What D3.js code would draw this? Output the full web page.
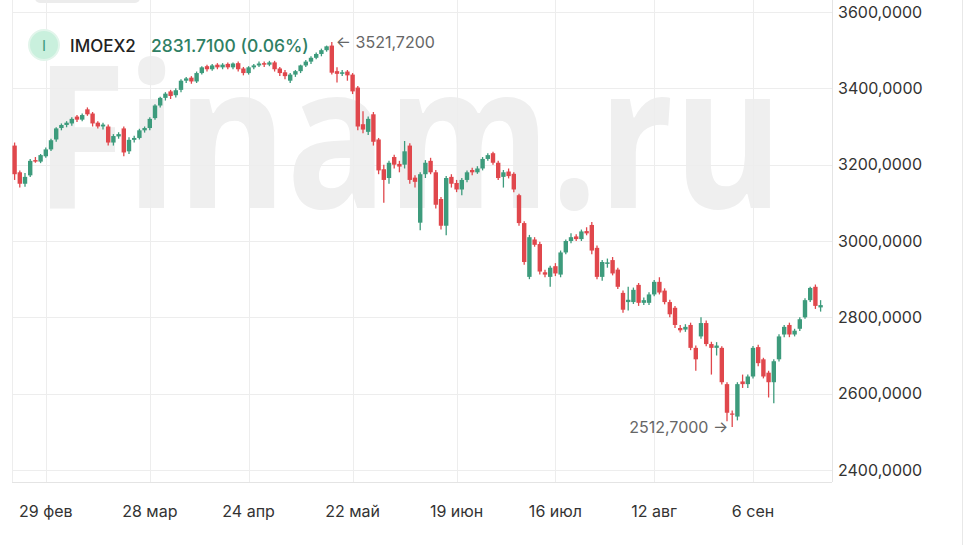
<!DOCTYPE html>
<html><head><meta charset="utf-8">
<script src="https://cdn.jsdelivr.net/npm/d3@7"></script>
<style>body{margin:0;background:#fff;font-family:Inter,"Noto Sans",sans-serif}</style>
</head><body><div id="chart"></div>
<script>
// daily candles [open, high, low, close], weekdays from 21 Feb 2024
const ohlc = [
[3250,3258,3160,3175],[3180,3185,3140,3150],[3150,3178,3142,3168],[3172,3215,3168,3210],[3212,3220,3205,3208],
[3208,3228,3204,3225],[3222,3245,3218,3240],[3240,3268,3236,3264],[3266,3298,3260,3295],[3296,3308,3290,3304],
[3304,3314,3298,3310],[3308,3324,3302,3320],[3326,3330,3312,3318],[3318,3334,3314,3330],[3345,3350,3328,3332],
[3334,3338,3300,3308],[3310,3314,3295,3300],[3300,3310,3292,3305],[3300,3305,3250,3258],[3258,3280,3250,3275],
[3274,3285,3268,3280],[3295,3300,3222,3232],[3235,3272,3228,3265],[3265,3276,3258,3270],[3270,3294,3266,3290],
[3290,3300,3284,3296],[3296,3324,3290,3320],[3322,3358,3318,3355],[3355,3378,3350,3375],[3375,3390,3368,3386],
[3392,3396,3372,3380],[3382,3400,3376,3395],[3396,3424,3390,3420],[3420,3430,3414,3426],[3428,3432,3412,3418],
[3418,3444,3414,3440],[3440,3458,3436,3455],[3458,3462,3444,3450],[3450,3464,3446,3460],[3462,3466,3450,3455],
[3455,3466,3450,3462],[3464,3468,3450,3455],[3455,3468,3450,3465],[3466,3470,3444,3450],[3452,3456,3434,3440],
[3440,3458,3436,3455],[3455,3464,3450,3460],[3460,3470,3456,3465],[3466,3470,3456,3462],[3462,3472,3458,3468],
[3468,3472,3444,3450],[3452,3456,3432,3440],[3442,3448,3424,3432],[3420,3440,3414,3436],[3436,3448,3430,3445],
[3445,3462,3440,3460],[3460,3474,3456,3470],[3470,3484,3464,3480],[3480,3494,3476,3490],[3490,3504,3484,3500],
[3500,3512,3496,3510],[3512,3521.72,3436,3441],[3445,3455,3415,3438],[3438,3448,3432,3442],[3444,3448,3420,3434],
[3436,3440,3385,3392],[3402,3406,3290,3300],[3306,3340,3282,3292],[3286,3326,3278,3320],[3332,3338,3250,3260],
[3266,3270,3175,3185],[3188,3200,3100,3160],[3165,3210,3150,3205],[3220,3226,3190,3200],[3202,3210,3180,3195],
[3200,3262,3190,3235],[3250,3256,3150,3160],[3166,3172,3140,3155],[3048,3180,3028,3175],[3175,3212,3165,3205],
[3210,3218,3175,3180],[3180,3186,3085,3095],[3110,3115,3030,3040],[3040,3170,3015,3165],[3168,3175,3140,3150],
[3152,3160,3128,3135],[3135,3165,3120,3160],[3160,3185,3154,3180],[3186,3192,3172,3180],[3180,3196,3176,3190],
[3190,3220,3185,3215],[3215,3230,3210,3225],[3230,3234,3200,3205],[3205,3210,3160,3165],[3168,3186,3140,3180],
[3182,3190,3164,3170],[3176,3180,3128,3135],[3120,3124,3040,3047],[3047,3052,2938,2945],[2906,3016,2900,3010],
[3004,3010,2985,2990],[2992,2998,2912,2920],[2918,2925,2905,2912],[2906,2935,2880,2930],[2934,2942,2908,2915],
[2912,2975,2905,2970],[2970,3004,2965,3000],[3000,3020,2994,3010],[3012,3018,3000,3005],[3005,3030,3000,3025],
[3026,3036,3015,3020],[3042,3050,2965,2975],[2982,2988,2900,2906],[2906,2950,2896,2945],[2940,2954,2930,2944],
[2950,2958,2910,2915],[2925,2930,2874,2880],[2864,2870,2812,2820],[2840,2880,2818,2846],[2840,2878,2835,2872],
[2885,2890,2830,2838],[2838,2852,2832,2845],[2838,2866,2832,2860],[2860,2898,2855,2893],[2893,2905,2860,2865],
[2870,2876,2834,2840],[2840,2846,2800,2808],[2825,2830,2772,2780],[2772,2780,2760,2766],[2768,2782,2762,2775],
[2780,2786,2714,2720],[2720,2726,2660,2690],[2750,2800,2744,2785],[2785,2792,2724,2730],[2730,2736,2650,2720],
[2720,2735,2700,2726],[2720,2724,2624,2630],[2625,2630,2528,2550],[2548,2556,2512.7,2545],[2540,2630,2530,2625],
[2632,2650,2615,2625],[2625,2650,2615,2645],[2645,2725,2640,2720],[2722,2728,2672,2680],[2690,2694,2640,2645],
[2655,2660,2590,2630],[2630,2690,2575,2685],[2690,2756,2684,2750],[2755,2780,2748,2775],[2780,2786,2748,2755],
[2755,2770,2750,2765],[2770,2800,2764,2795],[2800,2850,2796,2845],[2845,2880,2840,2877],[2880,2886,2822,2830],
[2826,2845,2815,2832]
];
const startDate = "2024-02-21";
const xTickDates = ["2024-02-29","2024-03-28","2024-04-24","2024-05-22","2024-06-19","2024-07-16","2024-08-12","2024-09-06"];
const xTickLabels = ["29 фев","28 мар","24 апр","22 май","19 июн","16 июл","12 авг","6 сен"];
const yTicks = [2400,2600,2800,3000,3200,3400,3600];

// trading calendar: consecutive weekdays
const fmt = d3.timeFormat("%Y-%m-%d");
const dates = [];
let d = new Date(startDate + "T12:00:00");
while (dates.length < ohlc.length) {
  if (d.getDay() % 6 !== 0) dates.push(fmt(d));
  d = d3.timeDay.offset(d, 1);
}

const W = 974, H = 545;
const plot = {left: 12, right: 832, top: 0, bottom: 482};
const svg = d3.select("#chart").append("svg").attr("width", W).attr("height", H);

const step = 5.2;
const x = d3.scaleBand().domain(dates).range([12, 12 + step * dates.length]);
const y = d3.scaleLinear().domain([2400, 3600]).range([470, 12]);

// watermark
svg.append("text").attr("x", 35).attr("y", 208)
  .attr("font-family", "'Open Sans',sans-serif").attr("font-weight", 700)
  .attr("font-size", 200).attr("textLength", 748).attr("lengthAdjust", "spacingAndGlyphs")
  .attr("fill", "#efefef").text("Finam.ru");

// top toolbar remnants
[[35,120],[100,140]].forEach(([a,b]) => svg.append("rect").attr("x", a).attr("y", -8)
  .attr("width", b - a).attr("height", 11).attr("rx", 5).attr("fill", "#ececec"));

const grid = svg.append("g").attr("stroke", "#ededed").attr("stroke-width", 1);
yTicks.forEach(t => grid.append("line").attr("x1", plot.left).attr("x2", plot.right)
  .attr("y1", Math.round(y(t)) + .5).attr("y2", Math.round(y(t)) + .5));
const tickX = k => x(k) + x.bandwidth() / 2;
xTickDates.forEach(k => grid.append("line").attr("y1", 0).attr("y2", plot.bottom)
  .attr("x1", Math.round(tickX(k)) + .5).attr("x2", Math.round(tickX(k)) + .5));
grid.append("line").attr("x1", plot.left + .5).attr("x2", plot.left + .5).attr("y1", 0).attr("y2", plot.bottom);
grid.append("line").attr("x1", plot.right + .5).attr("x2", plot.right + .5).attr("y1", 0).attr("y2", plot.bottom).attr("stroke", "#e4e4e4");
grid.append("line").attr("x1", plot.left).attr("x2", plot.right).attr("y1", plot.bottom + .5).attr("y2", plot.bottom + .5).attr("stroke", "#e4e4e4");
grid.append("line").attr("x1", 962.5).attr("x2", 962.5).attr("y1", 0).attr("y2", H).attr("stroke", "#e8e8e8");

// axes
const yAxis = svg.append("g").attr("transform", `translate(${plot.right},0)`)
  .call(d3.axisRight(y).tickValues(yTicks).tickSize(0).tickPadding(6)
    .tickFormat(v => d3.format(".4f")(v).replace(".", ",")));
yAxis.select(".domain").remove();
yAxis.selectAll("text").attr("font-family", "Inter,sans-serif").attr("font-size", 16).attr("fill", "#333");

const xAxis = svg.append("g").attr("transform", `translate(0,${plot.bottom})`)
  .call(d3.axisBottom(x).tickValues(xTickDates).tickSize(0).tickPadding(24)
    .tickFormat((v, i) => xTickLabels[i]));
xAxis.select(".domain").remove();
xAxis.selectAll("text").attr("font-family", "Inter,sans-serif").attr("font-size", 16).attr("fill", "#333");

// candles
const up = "#3d9b7c", down = "#e0474c";
const g = svg.append("g");
ohlc.forEach((c, i) => {
  const [o, h, l, cl] = c;
  const col = cl >= o ? up : down;
  const cx = x(dates[i]) + x.bandwidth() / 2;
  g.append("line").attr("x1", cx).attr("x2", cx).attr("y1", y(h)).attr("y2", y(l))
    .attr("stroke", col).attr("stroke-width", 1.3);
  const top = y(Math.max(o, cl)), bot = y(Math.min(o, cl));
  g.append("rect").attr("x", cx - 2.2).attr("width", 4.4)
    .attr("y", top).attr("height", Math.max(1.2, bot - top)).attr("fill", col);
});

// min/max annotations
const iMax = d3.maxIndex(ohlc, c => c[1]), iMin = d3.minIndex(ohlc, c => c[2]);
const fmtV = v => d3.format(".4f")(v).replace(".", ",");
svg.append("text").attr("x", tickX(dates[iMax]) + 4).attr("y", y(ohlc[iMax][1]) + 6)
  .attr("font-size", 16).attr("fill", "#666").text("← " + fmtV(ohlc[iMax][1]));
svg.append("text").attr("x", tickX(dates[iMin]) - 4).attr("y", y(ohlc[iMin][2]) + 6)
  .attr("text-anchor", "end").attr("font-size", 16).attr("fill", "#666").text(fmtV(ohlc[iMin][2]) + " →");

// legend
svg.append("circle").attr("cx", 44).attr("cy", 45).attr("r", 15).attr("fill", "#c9f0dd").attr("stroke", "#e2f5eb").attr("stroke-width", 2);
svg.append("text").attr("x", 44).attr("y", 51).attr("text-anchor", "middle").attr("font-size", 15).attr("fill", "#3d9b7c").text("I");
svg.append("text").attr("x", 70).attr("y", 52).attr("font-size", 17).attr("font-weight", 500).attr("fill", "#222").text("IMOEX2");
svg.append("text").attr("x", 151).attr("y", 52).attr("font-size", 17.5).attr("font-weight", 500).attr("fill", "#2f7f64")
  .text(d3.format(".4f")(ohlc[ohlc.length - 1][3] - 0.29) + " (0.06%)");
</script></body></html>
